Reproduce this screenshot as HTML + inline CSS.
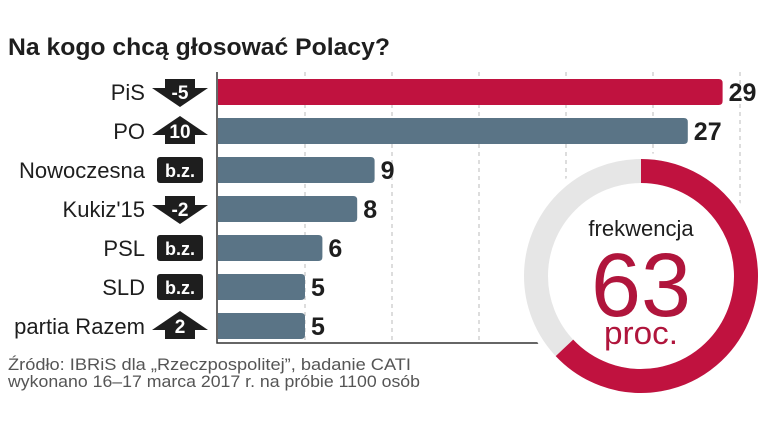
<!DOCTYPE html>
<html><head><meta charset="utf-8"><style>
html,body{margin:0;padding:0;background:#fff;}
svg{display:block;font-family:"Liberation Sans","DejaVu Sans",sans-serif;}
</style></head><body>
<svg id="c" width="766" height="427" viewBox="0 0 766 427">
<text x="8" y="55" font-size="24" font-weight="bold" fill="#1e1e1e" textLength="382" lengthAdjust="spacingAndGlyphs">Na kogo chcą głosować Polacy?</text>
<g id="grid"></g>
<g id="bars"></g>
<g id="donut"></g>
<text x="8" y="370" font-size="17" fill="#555" textLength="403" lengthAdjust="spacingAndGlyphs">Źródło: IBRiS dla „Rzeczpospolitej”, badanie CATI</text>
<text x="8" y="387" font-size="17" fill="#555" textLength="412" lengthAdjust="spacingAndGlyphs">wykonano 16–17 marca 2017 r. na próbie 1100 osób</text>
</svg>
<script>
const categories=["PiS","PO","Nowoczesna","Kukiz'15","PSL","SLD","partia Razem"];
const values=[29,27,9,8,6,5,5];
const changes=["-5","10","b.z.","-2","b.z.","b.z.","2"];
const gridTicks=[5,10,15,20,25,30];
const turnout=63;
const NS="http://www.w3.org/2000/svg";
function mk(tag,attrs,parent){const e=document.createElementNS(NS,tag);for(const k in attrs)e.setAttribute(k,attrs[k]);parent.appendChild(e);return e;}
const x0=218,unit=17.4,y0=92,step=39,bh=26;
const xs=v=>x0+v*unit, ys=i=>y0+i*step;
const grid=document.getElementById('grid'),bars=document.getElementById('bars'),donut=document.getElementById('donut');
gridTicks.forEach(t=>{const l=mk('line',{x1:xs(t),x2:xs(t),y1:72,y2:343,stroke:'#bbb','stroke-dasharray':'4,4','stroke-width':1},grid);

});
const ax=mk('path',{d:`M${x0-1} 72 V343 H560`,stroke:'#333',fill:'none','stroke-width':1.5},grid);


categories.forEach((c,i)=>{
 const cy=ys(i),w=xs(values[i])-x0;
 const b=mk('path',{d:`M${x0} ${cy-bh/2} H${x0+w-4} Q${x0+w} ${cy-bh/2} ${x0+w} ${cy-bh/2+4} V${cy+bh/2-4} Q${x0+w} ${cy+bh/2} ${x0+w-4} ${cy+bh/2} H${x0} Z`,fill:i==0?'#c0123f':'#5a7486'},bars);
 
 
 const v=mk('text',{x:x0+w+6,y:cy+9,'font-size':25,'font-weight':'bold',fill:'#1e1e1e'},bars);v.textContent=values[i];
 
 
 const lb=mk('text',{x:145,y:cy+8,'font-size':22,fill:'#1e1e1e','text-anchor':'end'},bars);lb.textContent=c;
 
 
 const ch=changes[i];let sh;
 if(ch==='b.z.'){sh=mk('rect',{x:157,y:cy-13,width:46,height:26,rx:3,fill:'#1e1e1e'},bars);}
 else if(ch.startsWith('-')){sh=mk('path',{d:`M165 ${cy-13} H195 V${cy-4} H208 L180 ${cy+15} L152 ${cy-4} H165 Z`,fill:'#1e1e1e'},bars);}
 else{sh=mk('path',{d:`M165 ${cy+13} H195 V${cy+4} H208 L180 ${cy-15} L152 ${cy+4} H165 Z`,fill:'#1e1e1e'},bars);}
 
 
 const ct=mk('text',{x:180,y:cy+7,'font-size':ch==='b.z.'?18:19,'font-weight':'bold',fill:'#fff','text-anchor':'middle'},bars);ct.textContent=ch;
 
 
});
const cx=641,cyy=276,R=105,sw=24;
const bg=mk('circle',{cx:cx,cy:cyy,r:R+sw/2+6,fill:'#fff'},donut);


const g=mk('circle',{cx:cx,cy:cyy,r:R,fill:'none',stroke:'#e6e6e6','stroke-width':sw},donut);


const a=turnout/100*2*Math.PI;
const ex=cx+R*Math.sin(a),ey=cyy-R*Math.cos(a);
const arc=mk('path',{d:`M${cx} ${cyy-R} A${R} ${R} 0 ${turnout>50?1:0} 1 ${ex} ${ey}`,fill:'none',stroke:'#c0123f','stroke-width':sw},donut);


const t1=mk('text',{x:cx,y:236,'font-size':22,fill:'#1e1e1e','text-anchor':'middle'},donut);t1.textContent='frekwencja';


const t2=mk('text',{x:cx,y:316,'font-size':90,fill:'#b0153c','text-anchor':'middle','textLength':100,'lengthAdjust':'spacingAndGlyphs'},donut);t2.textContent=turnout;


const t3=mk('text',{x:cx,y:344,'font-size':32,fill:'#b0153c','text-anchor':'middle','textLength':74,'lengthAdjust':'spacingAndGlyphs'},donut);t3.textContent='proc.';


</script>
</body></html>
